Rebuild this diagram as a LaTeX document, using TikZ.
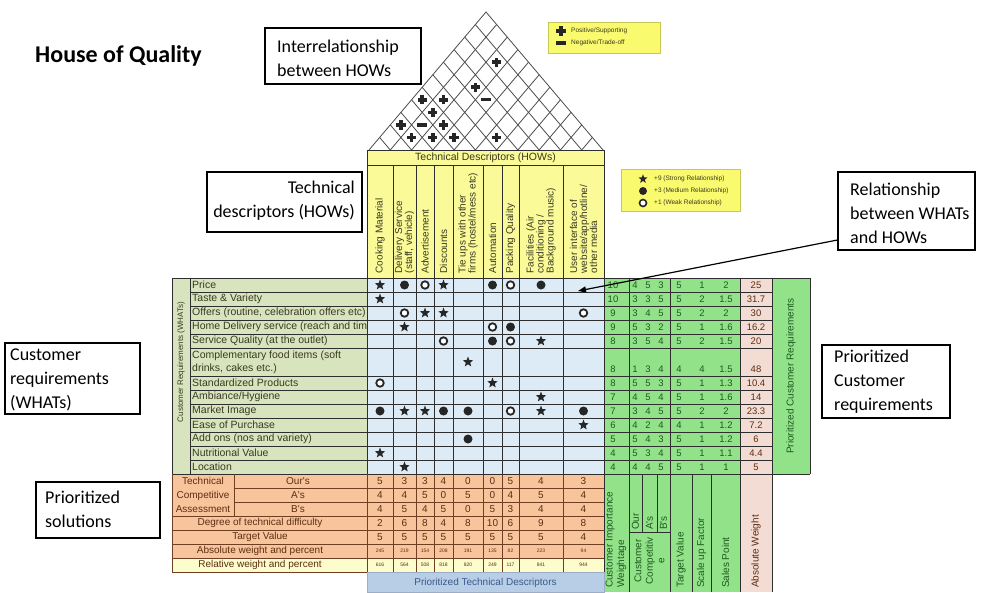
\documentclass[tikz,border=0pt]{standalone}
\usepackage{fontspec}
\setmainfont{Carlito}
\newfontfamily\tabfont{Liberation Sans}
\usetikzlibrary{shapes.geometric,calc,arrows.meta}

\definecolor{hdryellow}{HTML}{FAFA98}
\definecolor{legyellow}{HTML}{FAFA6E}
\definecolor{mtxblue}{HTML}{DDEBF6}
\definecolor{palegreen}{HTML}{D8E4BE}
\definecolor{brightgreen}{HTML}{92E28A}
\definecolor{pinkcol}{HTML}{F3DCD4}
\definecolor{orangecol}{HTML}{F8C49C}
\definecolor{paleyellow}{HTML}{FCFCCC}
\definecolor{prioblue}{HTML}{B8CDE6}
\definecolor{gridline}{HTML}{2E2E2E}
\definecolor{brownline}{HTML}{6E3F22}
\definecolor{greentext}{HTML}{1F5A1F}
\definecolor{browntext}{HTML}{5C2E12}
\definecolor{olivetext}{HTML}{3A3A22}
\definecolor{bluetext}{HTML}{3B5B8C}

\begin{document}
\begin{tikzpicture}[x=1pt,y=-1pt,
  grid/.style={draw=gridline,line width=0.8pt},
  bgrid/.style={draw=brownline,line width=0.8pt},
  roofline/.style={draw=black!70,line width=0.8pt},
  calloutbox/.style={draw=black,line width=1.1pt,fill=white,inner sep=0pt},
  callouttext/.style={inner sep=0pt,font=\fontsize{18}{24}\selectfont},
  rowlab/.style={anchor=west,inner sep=0pt,text=olivetext},
  colhead/.style={rotate=90,anchor=west,align=left,inner sep=0.5pt,
    font=\tabfont\fontsize{10}{10}\selectfont,text=olivetext},
  gnum/.style={inner sep=0pt,font=\tabfont\fontsize{9.5}{9.5}\selectfont,text=greentext},
  pnum/.style={inner sep=0pt,font=\tabfont\fontsize{9.5}{9.5}\selectfont,text=browntext},
  onum/.style={inner sep=0pt,font=\tabfont\fontsize{10}{10}\selectfont,text=browntext},
  tinynum/.style={inner sep=0pt,font=\tabfont\fontsize{5}{5}\selectfont,text=browntext},
  olab/.style={inner sep=0pt,font=\tabfont\fontsize{10}{14}\selectfont,text=browntext,align=center},
  vlab/.style={rotate=90,anchor=west,align=left,inner sep=0pt,
    font=\tabfont\fontsize{10}{11.5}\selectfont,text=greentext},
  legtext/.style={anchor=west,inner sep=0pt,font=\tabfont\fontsize{6.5}{6.5}\selectfont,text=olivetext},
  strongsym/.style={star,star points=5,star point ratio=2.4,fill=black!85,inner sep=0pt,minimum size=11pt},
  medsym/.style={circle,fill=black!85,inner sep=0pt,minimum size=9pt},
  weaksym/.style={circle,draw=black!85,fill=white,line width=1.8pt,inner sep=0pt,minimum size=7.5pt},
  plusmark/.pic={\fill[black!85] (-4.6,-1.8) rectangle (4.6,1.8);
                 \fill[black!85] (-1.8,-4.6) rectangle (1.8,4.6);},
  minusmark/.pic={\fill[black!85] (-5,-1.6) rectangle (5,1.6);},
]
\useasboundingbox (0,0) rectangle (996,592);
\fill[white] (0,0) rectangle (996,592);

% ---------- title ----------
\node[anchor=base west,inner sep=0pt,font=\fontsize{24}{24}\selectfont\bfseries] (title) at (35,62) {House of Quality};

% ---------- coloured areas ----------
\fill[hdryellow]   (367,150) rectangle (604,278);
\fill[palegreen]   (172,278) rectangle (367,474);
\fill[mtxblue]     (367,278) rectangle (604,474);
\fill[brightgreen] (604,278) rectangle (740,474);
\fill[pinkcol]     (740,278) rectangle (772,474);
\fill[brightgreen] (772,278) rectangle (810,474);
\fill[orangecol]   (172,474) rectangle (604,558);
\fill[paleyellow]  (172,558) rectangle (604,572);
\fill[prioblue]    (367,572) rectangle (604,592);
\fill[brightgreen] (604,474) rectangle (740,592);
\fill[pinkcol]     (740,474) rectangle (772,592);

% ---------- roof (correlation matrix) ----------
\coordinate (rA) at (369,150);
\coordinate (rB) at (603,150);
\coordinate (rC) at (486,12);
\draw[roofline] (rA) -- (rC) -- (rB);
\foreach \i in {1,...,10}{
  \pgfmathsetmacro\rf{\i/11}
  \pgfmathsetmacro\rg{1-\i/11}
  \draw[roofline] ($(rA)!\rf!(rB)$) -- ($(rB)!\rg!(rC)$);
  \draw[roofline] ($(rA)!\rf!(rB)$) -- ($(rA)!\rf!(rC)$);
}
\foreach \k/\m in {7/12,5/10,1/4,1/6,1/8,1/12,2/3,2/7,3/6,4/5,4/7}
  \pic at ({369+10.636*\m},{150-12.545*\k}) {plusmark};
\foreach \k/\m in {4/11,2/5}
  \pic at ({369+10.636*\m},{150-12.545*\k}) {minusmark};

% ---------- header of technical descriptors ----------
\draw[grid] (367,150) rectangle (604,278);
\draw[grid] (367,165) -- (604,165);
\node[inner sep=0pt,font=\tabfont\fontsize{10.5}{10.5}\selectfont,text=olivetext] (hows) at (485.5,157.5) {Technical Descriptors (HOWs)};
\foreach \x in {393,416,434,453,483,502,519,563}{
  \draw[grid] (\x,165) -- (\x,474);
  \draw[bgrid] (\x,474) -- (\x,572);
}
\foreach \cx/\txt [count=\i] in {
  380/{Cooking Material},
  404.5/{Delivery Service\\(staff, vehicle)},
  425/{Advertisement},
  443.5/{Discounts},
  468/{Tie ups with other\\firms (hostel/mess etc)},
  492.5/{Automation},
  510.5/{Packing Quality},
  541/{Facilities (Air\\conditioning /\\Background music)},
  583.5/{User interface of\\website/app/hotline/\\other media}}
  \node[colhead] (ch\i) at (\cx,274) {\txt};

% ---------- grid of the main body ----------
\foreach \y in {292,306,320,334,348,376,390,404,418,432,446,460}
  \draw[grid] (190,\y) -- (772,\y);
\draw[grid] (172,278) -- (810,278);
\draw[grid] (172,474) -- (810,474);
\foreach \x in {172,190,367}
  \draw[grid] (\x,278) -- (\x,474);
\foreach \x in {604,629,670,740,772}
  \draw[grid] (\x,278) -- (\x,592);
\draw[grid] (810,278) -- (810,474);
\draw[grid] (642,474) -- (642,532);
\draw[grid] (657,474) -- (657,532);
\draw[grid] (629,532) -- (670,532);
\draw[grid] (692,474) -- (692,592);
\draw[grid] (711,474) -- (711,592);

% ---------- customer requirements ----------
\node[rotate=90,inner sep=0pt,font=\tabfont\fontsize{8}{8}\selectfont,text=olivetext] (whats) at (181,362) {Customer Requirements (WHATs)};
\begin{scope}
  \clip (190,278) rectangle (367,474);
  \foreach \y/\txt [count=\i] in {
    285/{Price},
    299/{Taste \& Variety},
    313/{Offers (routine, celebration offers etc)},
    327/{Home Delivery service (reach and timing)},
    341/{Service Quality (at the outlet)},
    362/{Complementary food items (soft\\drinks, cakes etc.)},
    383/{Standardized Products},
    397/{Ambiance/Hygiene},
    411/{Market Image},
    425/{Ease of Purchase},
    439/{Add ons (nos and variety)},
    453/{Nutritional Value},
    467/{Location}}
    \node[rowlab,align=left,font=\tabfont\fontsize{10.5}{13}\selectfont] (cr\i) at (192,\y) {\txt};
\end{scope}

% ---------- relationship matrix ----------
\foreach \cx/\y/\sym [count=\i] in {
  380/285/strongsym, 404.5/285/medsym, 425/285/weaksym, 443.5/285/strongsym,
  492.5/285/medsym, 510.5/285/weaksym, 541/285/medsym,
  380/299/strongsym,
  404.5/313/weaksym, 425/313/strongsym, 443.5/313/strongsym, 583.5/313/weaksym,
  404.5/327/strongsym, 492.5/327/weaksym, 510.5/327/medsym,
  443.5/341/weaksym, 492.5/341/medsym, 510.5/341/weaksym, 541/341/strongsym,
  468/362/strongsym,
  380/383/weaksym, 492.5/383/strongsym,
  541/397/strongsym,
  380/411/medsym, 404.5/411/strongsym, 425/411/strongsym, 443.5/411/medsym,
  468/411/medsym, 510.5/411/weaksym, 541/411/strongsym, 583.5/411/medsym,
  583.5/425/strongsym,
  468/439/medsym,
  380/453/strongsym,
  404.5/467/strongsym}
  \node[\sym] (rel\i) at (\cx,\y) {};

% ---------- planning matrix ----------
\foreach \y/\va/\vb/\vc/\vd/\ve/\vf/\vg/\vh in {
  285/10/4/5/3/5/1/2/25,
  299/10/3/3/5/5/2/1.5/31.7,
  313/9/3/4/5/5/2/2/30,
  327/9/5/3/2/5/1/1.6/16.2,
  341/8/3/5/4/5/2/1.5/20,
  369/8/1/3/4/4/4/1.5/48,
  383/8/5/5/3/5/1/1.3/10.4,
  397/7/4/5/4/5/1/1.6/14,
  411/7/3/4/5/5/2/2/23.3,
  425/6/4/2/4/4/1/1.2/7.2,
  439/5/5/4/3/5/1/1.2/6,
  453/4/5/3/4/5/1/1.1/4.4,
  467/4/4/4/5/5/1/1/5}{
  \node[gnum] (imp\y) at (613,\y) {\va};
  \node[gnum] (our\y) at (635,\y) {\vb};
  \node[gnum] (aa\y)  at (648,\y) {\vc};
  \node[gnum] (bb\y)  at (661,\y) {\vd};
  \node[gnum] (tv\y)  at (679,\y) {\ve};
  \node[gnum] (sf\y)  at (702,\y) {\vf};
  \node[gnum] (sp\y)  at (726,\y) {\vg};
  \node[pnum] (aw\y)  at (756,\y) {\vh};
}
\node[rotate=90,inner sep=0pt,font=\tabfont\fontsize{10}{10}\selectfont,text=greentext] (pcr) at (791,376) {Prioritized Customer Requirements};

% bottom labels of the planning matrix
\node[vlab] (ciw) at (616,588) {Customer Importance\\Weightage};
\node[vlab,anchor=center,align=center] (ccomp) at (649.5,561) {Customer\\Competitiv\\e};
\node[vlab] (lour) at (635.5,530) {Our};
\node[vlab] (la)   at (649.5,530) {A's};
\node[vlab] (lb)   at (663.5,530) {B's};
\node[vlab] (ltv)  at (681,588) {Target Value};
\node[vlab] (lsf)  at (701.5,588) {Scale up Factor};
\node[vlab] (lsp)  at (725.5,588) {Sales Point};
\node[vlab,text=browntext] (law) at (756,588) {Absolute Weight};

% ---------- technical assessment (bottom) ----------
\draw[bgrid] (172,474) -- (172,572) -- (604,572);
\draw[bgrid] (367,474) -- (367,572);
\foreach \y in {516,530,544,558}
  \draw[bgrid] (172,\y) -- (604,\y);
\foreach \y in {488,502}
  \draw[bgrid] (234,\y) -- (604,\y);
\draw[bgrid] (234,474) -- (234,516);
\node[olab] (tca) at (203,495) {Technical\\Competitive\\Assessment};
\node[olab] (lours) at (298,481) {Our's};
\node[olab] (las)   at (298,495) {A's};
\node[olab] (lbs)   at (298,509) {B's};
\node[olab] (ldeg)  at (260,523) {Degree of technical difficulty};
\node[olab] (ltarg) at (260,537) {Target Value};
\node[olab] (labs)  at (260,551) {Absolute weight and percent};
\node[olab] (lrel)  at (260,565) {Relative weight and percent};
\foreach \cx/\a/\b/\c/\d/\e/\f/\g [count=\i] in {
  380/5/4/4/2/5/245/616,
  404.5/3/4/5/6/5/219/564,
  425/3/5/4/8/5/154/508,
  443.5/4/0/5/4/5/208/818,
  468/0/5/0/8/5/191/820,
  492.5/0/0/5/10/5/135/249,
  510.5/5/4/3/6/5/82/117,
  541/4/5/4/9/5/223/841,
  583.5/3/4/4/8/4/94/944}{
  \node[onum] (to\i) at (\cx,481) {\a};
  \node[onum] (ta\i) at (\cx,495) {\b};
  \node[onum] (tb\i) at (\cx,509) {\c};
  \node[onum] (td\i) at (\cx,523) {\d};
  \node[onum] (tt\i) at (\cx,537) {\e};
  \node[tinynum] (tw\i) at (\cx,551) {\f};
  \node[tinynum] (tr\i) at (\cx,565) {\g};
}
\draw[draw=bluetext!50,line width=0.6pt] (367,572) rectangle (604,592);
\node[inner sep=0pt,font=\tabfont\fontsize{10}{10}\selectfont,text=bluetext] (ptd) at (485.5,583) {Prioritized Technical Descriptors};

% ---------- legends ----------
\node[fill=legyellow,draw=legyellow!80!black,line width=0.4pt,minimum width=112pt,minimum height=31pt,inner sep=0pt] (legA) at (604,37.5) {};
\pic at (561,31) {plusmark};
\pic at (561,43) {minusmark};
\node[legtext] (legApos) at (571,31) {Positive/Supporting};
\node[legtext] (legAneg) at (571,43) {Negative/Trade-off};

\node[fill=legyellow,draw=legyellow!80!black,line width=0.4pt,minimum width=119pt,minimum height=42pt,inner sep=0pt] (legB) at (680.5,190) {};
\node[strongsym,minimum size=9.5pt] (legBs) at (643,179) {};
\node[medsym,minimum size=8pt] (legBm) at (643,191) {};
\node[weaksym,minimum size=7pt,line width=1.6pt] (legBw) at (643,203) {};
\node[legtext] (legBst) at (654,179) {+9 (Strong Relationship)};
\node[legtext] (legBmt) at (654,191) {+3 (Medium Relationship)};
\node[legtext] (legBwt) at (654,203) {+1 (Weak Relationship)};

% ---------- callouts ----------
\node[calloutbox,minimum width=156pt,minimum height=56pt] (interrel) at (343,56) {};
\node[callouttext,anchor=west,align=left] (interrelt) at (277,58) {Interrelationship\\between HOWs};

\node[calloutbox,minimum width=155pt,minimum height=60pt] (techdesc) at (284.5,202) {};
\node[callouttext,anchor=east,align=right] (techdesct) at (355,201) {Technical\\descriptors (HOWs)};

\node[calloutbox,minimum width=137pt,minimum height=78pt] (relbox) at (906.5,211) {};
\node[callouttext,anchor=west,align=left] (relboxt) at (850,213) {Relationship\\between WHATs\\and HOWs};

\node[calloutbox,minimum width=135pt,minimum height=71pt] (custreq) at (72.5,378.5) {};
\node[callouttext,anchor=west,align=left] (custreqt) at (10,380) {Customer\\requirements\\(WHATs)};

\node[calloutbox,minimum width=128pt,minimum height=73pt] (priocust) at (886,381.5) {};
\node[callouttext,anchor=west,align=left] (priocustt) at (834,381.5) {Prioritized\\Customer\\requirements};

\node[calloutbox,minimum width=124pt,minimum height=56pt] (priosol) at (98,510) {};
\node[callouttext,anchor=west,align=left] (priosolt) at (45,509.5) {Prioritized\\solutions};

% arrow from the relationship callout into the matrix
\coordinate (reltip) at (578,291);
\draw[line width=1.2pt,-{Triangle[length=8pt,width=6pt]}] ([yshift=-29pt]relbox.west) -- (reltip);

\end{tikzpicture}
\end{document}
